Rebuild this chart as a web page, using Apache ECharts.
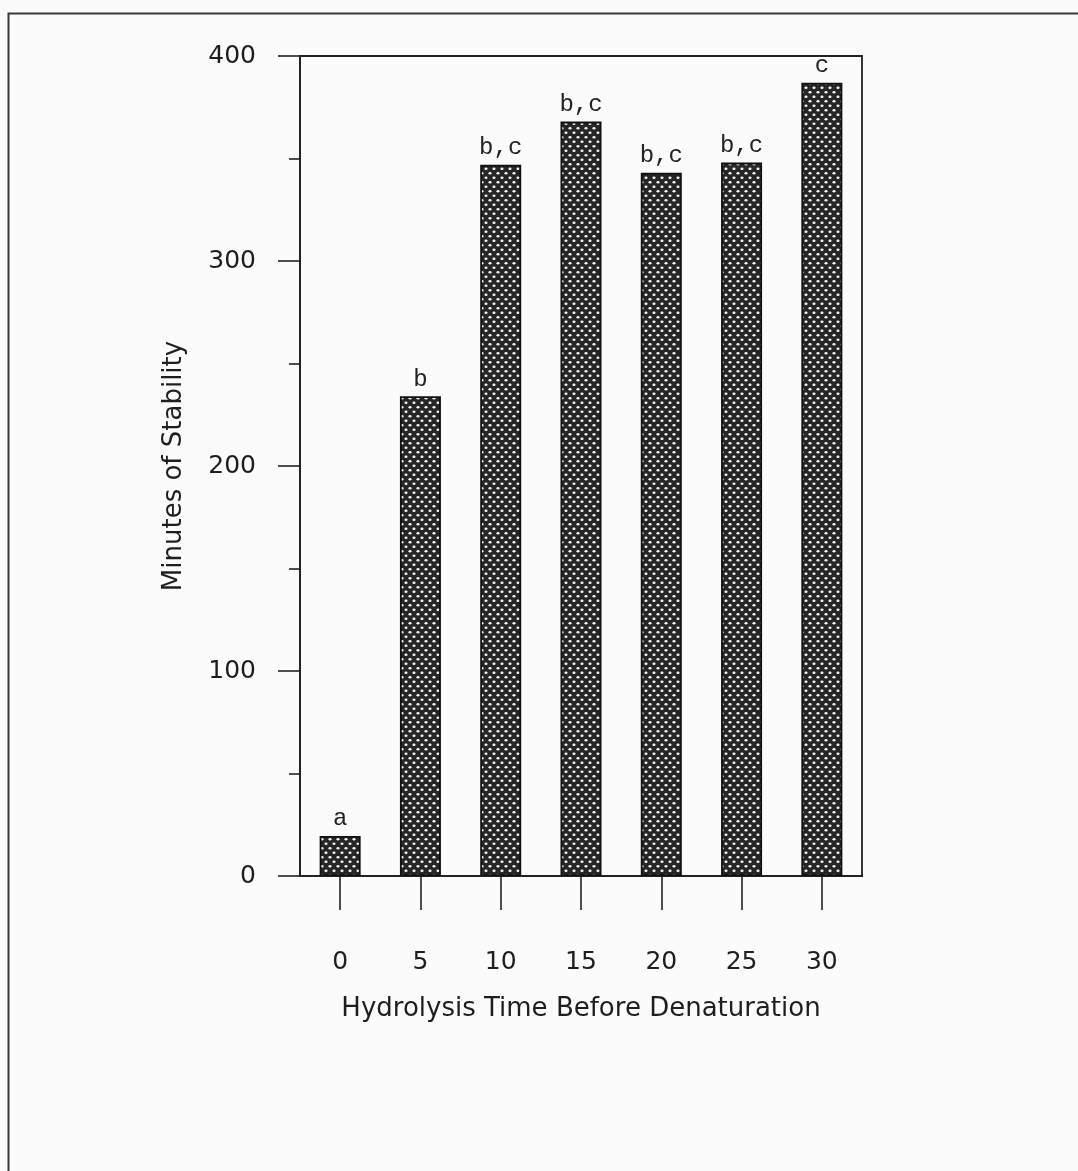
<!DOCTYPE html>
<html>
<head>
<meta charset="utf-8">
<script src="https://cdn.jsdelivr.net/npm/echarts@6/dist/echarts.min.js"></script>
<style>
html,body{margin:0;padding:0;background:#fbfbfb;}
#chart{width:1078px;height:1171px;}
</style>
</head>
<body>
<div id="chart"></div>
<script>
// Data
const categories = ['0', '5', '10', '15', '20', '25', '30'];
const stabilityMinutes = [19.5, 234, 347, 368, 343, 348, 387];
const groupLetters = ['a', 'b', 'b,c', 'b,c', 'b,c', 'b,c', 'c'];
const yTicks = [0, 100, 200, 300, 400];
const xAxisTitle = 'Hydrolysis Time Before Denaturation';
const yAxisTitle = 'Minutes of Stability';

// Dotted fill pattern (dark with white staggered dots)
function makePattern() {
  const c = document.createElement('canvas');
  c.width = 8; c.height = 9;
  const g = c.getContext('2d');
  g.fillStyle = '#262626';
  g.fillRect(0, 0, 8, 9);
  g.fillStyle = '#f4f4f4';
  const dots = [[2, 2.2], [6, 6.7]];
  dots.forEach(function (d) {
    g.beginPath();
    g.ellipse(d[0], d[1], 1.55, 1.2, 0, 0, Math.PI * 2);
    g.fill();
  });
  return c;
}
const pattern = makePattern();

const chart = echarts.init(document.getElementById('chart'), null, {renderer: 'canvas'});
const axisColor = '#222';
const textColor = '#1e1e1e';
const sans = '"DejaVu Sans", "Liberation Sans", Arial, sans-serif';

chart.setOption({
  backgroundColor: '#fbfbfb',
  animation: false,
  grid: {
    left: 300, right: 216, top: 56, bottom: 295,
    show: true, borderColor: axisColor, borderWidth: 1.8,
    backgroundColor: 'transparent'
  },
  graphic: [{
    type: 'rect',
    shape: {x: 8.5, y: 13.5, width: 1200, height: 1300},
    style: {fill: 'none', stroke: '#3a3a3a', lineWidth: 2},
    silent: true
  }],
  xAxis: {
    type: 'category',
    data: categories,
    axisLine: {show: true, lineStyle: {color: axisColor, width: 1.8}},
    axisTick: {show: true, alignWithLabel: true, length: 34, lineStyle: {color: axisColor, width: 1.6}},
    axisLabel: {margin: 74, fontSize: 25, color: textColor, fontFamily: sans},
    name: xAxisTitle,
    nameLocation: 'middle',
    nameGap: 120,
    nameTextStyle: {fontSize: 26, color: textColor, fontFamily: sans}
  },
  yAxis: {
    type: 'value',
    min: yTicks[0],
    max: yTicks[yTicks.length - 1],
    interval: 100,
    axisLine: {show: true, lineStyle: {color: axisColor, width: 1.8}},
    axisTick: {show: true, length: 22, lineStyle: {color: axisColor, width: 1.6}},
    minorTick: {show: true, splitNumber: 2, length: 11, lineStyle: {color: axisColor, width: 1.6}},
    splitLine: {show: false},
    axisLabel: {margin: 44, fontSize: 25, color: textColor, fontFamily: sans},
    name: yAxisTitle,
    nameLocation: 'middle',
    nameGap: 113,
    nameTextStyle: {fontSize: 26, color: textColor, fontFamily: sans}
  },
  series: [{
    type: 'bar',
    data: stabilityMinutes,
    barWidth: 41,
    itemStyle: {
      color: {image: pattern, repeat: 'repeat'},
      borderColor: '#111',
      borderWidth: 1.8
    },
    label: {
      show: true,
      position: 'top',
      distance: 5,
      fontSize: 24,
      fontFamily: '"Liberation Mono", "Courier New", monospace',
      color: '#222',
      formatter: function (p) { return groupLetters[p.dataIndex]; }
    }
  }]
});
</script>
</body>
</html>
